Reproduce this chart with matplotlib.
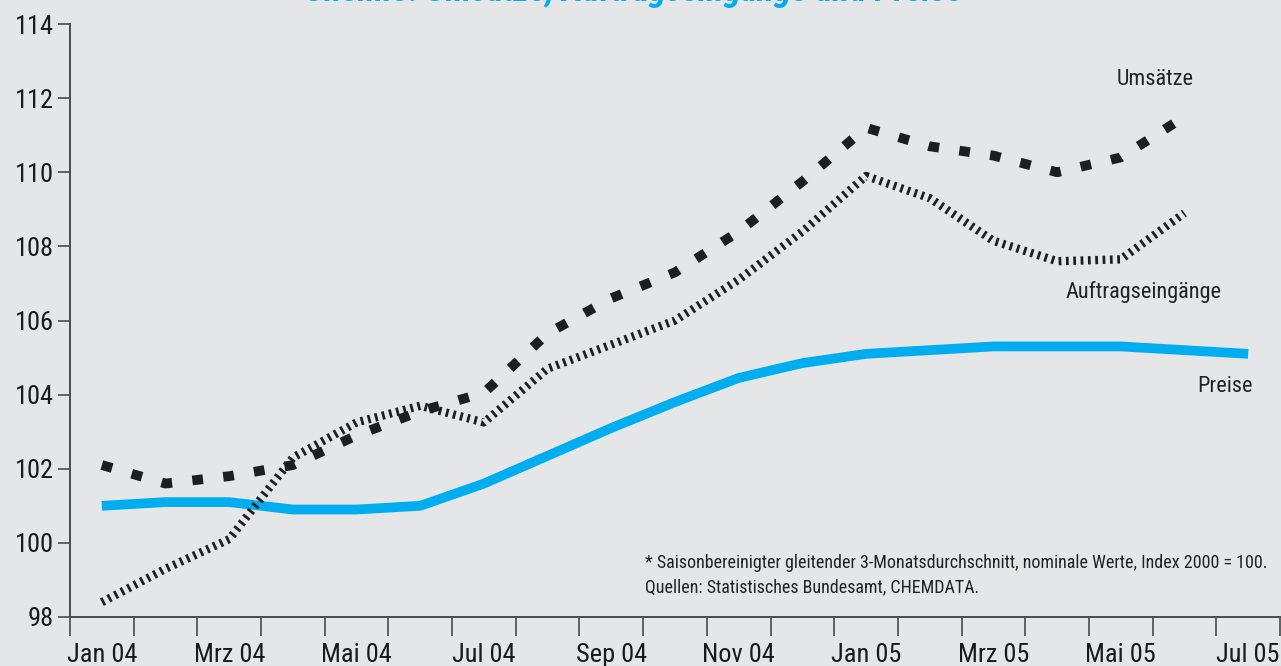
import matplotlib
matplotlib.use("Agg")
import matplotlib.pyplot as plt
import numpy as np

# month-by-month index values (Index 2000 = 100), Jan 04 .. Jul 05
months = ["Jan 04", "Feb 04", "Mrz 04", "Apr 04", "Mai 04", "Jun 04", "Jul 04",
          "Aug 04", "Sep 04", "Okt 04", "Nov 04", "Dez 04", "Jan 05", "Feb 05",
          "Mrz 05", "Apr 05", "Mai 05", "Jun 05", "Jul 05"]
umsaetze = [102.1, 101.6, 101.8, 102.1, 102.9, 103.55, 104.05, 105.65, 106.6, 107.3,
            108.4, 109.75, 111.2, 110.7, 110.45, 110.0, 110.4, 111.5]
auftrag = [98.4, 99.3, 100.1, 102.3, 103.25, 103.7, 103.25, 104.7, 105.35, 106.0,
           107.1, 108.4, 109.9, 109.3, 108.15, 107.6, 107.65, 108.9]
preise = [101.0, 101.1, 101.1, 100.9, 100.9, 101.0, 101.6, 102.35, 103.1, 103.8,
          104.45, 104.85, 105.1, 105.2, 105.3, 105.3, 105.3, 105.2, 105.1]
yticks = [98, 100, 102, 104, 106, 108, 110, 112, 114]

BG = "#e5e6e8"
CYAN = "#00aeef"
INK = "#1e1e1e"
AXIS = "#4a4a4a"
FONT = ["Roboto Condensed", "PT Sans Narrow", "DejaVu Sans"]

plt.rcParams["font.family"] = FONT

fig = plt.figure(figsize=(12.81, 6.66), dpi=100, facecolor=BG)
ax = fig.add_axes([70 / 1281, 49 / 666, 1210 / 1281, 593 / 666], facecolor=BG)

x_u = np.arange(len(umsaetze)) + 0.5
x_a = np.arange(len(auftrag)) + 0.5
x_p = np.arange(len(preise)) + 0.5

ax.plot(x_p, preise, color=CYAN, lw=7, solid_capstyle="butt", solid_joinstyle="round", zorder=2)
ax.plot(x_a, auftrag, color=INK, lw=6, dashes=(0.33, 0.55), zorder=3)
ax.plot(x_u, umsaetze, color=INK, lw=7, dashes=(1.1, 2.1), zorder=4)

ax.set_xlim(0, len(months))
ax.set_ylim(98, 114)

# axes styling
for s in ["top", "right"]:
    ax.spines[s].set_visible(False)
for s in ["left", "bottom"]:
    ax.spines[s].set_color(AXIS)
    ax.spines[s].set_linewidth(1.4)

ax.set_yticks(yticks)
ax.tick_params(axis="y", direction="out", length=9, width=1.2, color=AXIS,
               labelsize=19, pad=2.5, labelcolor="#1a1a1a")
ax.set_xticks(np.arange(len(months) + 1))
ax.set_xticklabels([])
ax.tick_params(axis="x", which="major", direction="out", length=14, width=1.2, color=AXIS)
ax.set_xticks(np.arange(0, len(months), 2) + 0.5, minor=True)
ax.set_xticklabels(months[::2], minor=True)
ax.tick_params(axis="x", which="minor", length=0, labelsize=19, pad=19, labelcolor="#1a1a1a")

# series labels
ax.text(17.04, 112.5, "Umsätze", fontsize=16, color="#222", ha="center", va="center")
ax.text(16.85, 106.77, "Auftragseingänge", fontsize=16, color="#222", ha="center", va="center")
ax.text(18.14, 104.23, "Preise", fontsize=16, color="#222", ha="center", va="center")

# footnote
fig.text(645 / 1281, 1 - 563 / 666, "* Saisonbereinigter gleitender 3-Monatsdurchschnitt, "
         "nominale Werte, Index 2000 = 100.", fontsize=13, color="#222", va="center")
fig.text(645 / 1281, 1 - 587 / 666, "Quellen: Statistisches Bundesamt, CHEMDATA.",
         fontsize=13, color="#222", va="center")

# title, cut off at the top edge in the original
fig.text(642 / 1281, 1 - 1.5 / 666, "Chemie: Umsätze, Auftragseingänge und Preise*",
         fontsize=25.5, fontweight="bold", fontstyle="italic", color=CYAN,
         ha="center", va="baseline")

fig.savefig("out.png", dpi=100, facecolor=BG)
